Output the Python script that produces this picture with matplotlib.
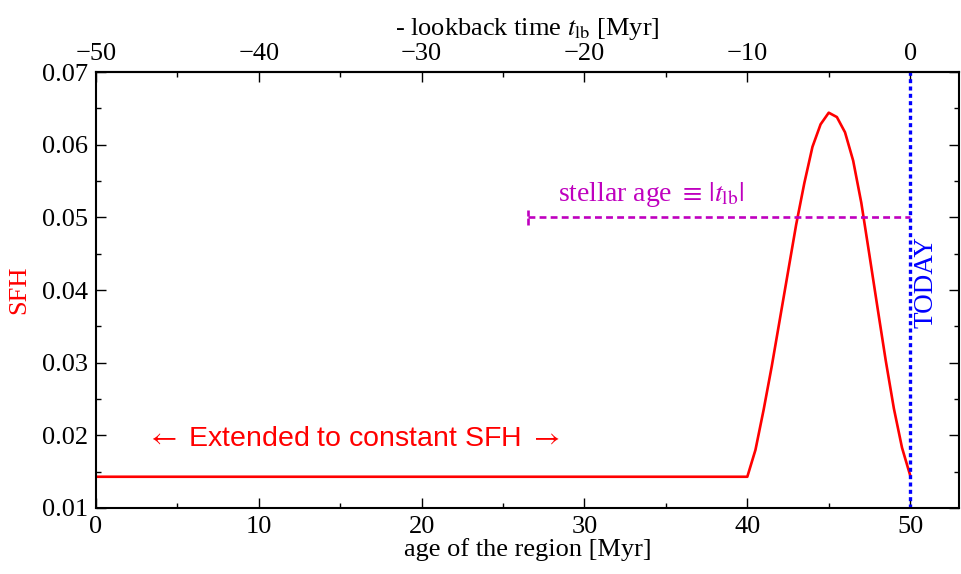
import matplotlib
matplotlib.use("Agg")
import matplotlib.pyplot as plt
from matplotlib.ticker import MultipleLocator, FormatStrFormatter, FixedLocator

# star formation history of the region
age_flat = [0.0, 40.0]
sfh_flat = [0.0143, 0.0143]
age_burst = [40.0, 40.5, 41.0, 41.5, 42.0, 42.5, 43.0, 43.5, 44.0, 44.5, 45.0,
             45.5, 46.0, 46.5, 47.0, 47.5, 48.0, 48.5, 49.0, 49.5, 50.0]
sfh_burst = [0.0143, 0.0180, 0.0235, 0.0295, 0.0360, 0.0425, 0.0490, 0.0547,
             0.0597, 0.0628, 0.0644, 0.0638, 0.0617, 0.0578, 0.0520, 0.0448,
             0.0375, 0.0303, 0.0237, 0.0183, 0.0145]

age_today = 50.0          # age of the region now
stellar_age_start = 26.5  # left end of the stellar-age marker
stellar_age_level = 0.05
cap_half = 0.001

top_major = [-50, -40, -30, -20, -10, 0]
top_minor = [-45, -35, -25, -15, -5]

plt.rcParams['font.family'] = 'serif'
plt.rcParams['font.serif'] = ['Liberation Serif', 'DejaVu Serif']
plt.rcParams['mathtext.fontset'] = 'stix'
plt.rcParams['font.size'] = 19

fig = plt.figure(figsize=(9.61, 5.74), dpi=100)
ax = fig.add_axes([96/961, 66/574, 863/961, 436/574])

# SFH curve
ax.plot(age_flat + age_burst[1:], sfh_flat + sfh_burst[1:], color='red', lw=1.9)

# today
ax.axvline(age_today, color='blue', ls=(0, (1.2, 1.0)), lw=2.4)
ax.text(age_today + 1.0, 0.0411, 'TODAY', color='blue', rotation=90,
        ha='center', va='center', fontsize=19.5)

# stellar age marker
ax.plot([stellar_age_start, age_today], [stellar_age_level, stellar_age_level],
        color='m', ls=(0, (2.6, 1.6)), lw=1.9)
ax.plot([stellar_age_start, stellar_age_start],
        [stellar_age_level - cap_half, stellar_age_level + cap_half],
        color='m', ls=(0, (2.6, 0.8)), lw=1.9)
ax.text(34.1, 0.0531, r'stellar age $\equiv\,|t_{\rm lb}|$', color='m',
        ha='center', va='center', fontsize=20)

ax.text(15.8, 0.0195, r'$\leftarrow$ Extended to constant SFH $\rightarrow$',
        color='red', ha='center', va='center', fontsize=20.5,
        family='Liberation Sans')

ax.set_xlim(0, 53)
ax.set_ylim(0.01, 0.07)
ax.xaxis.set_major_locator(MultipleLocator(10))
ax.xaxis.set_minor_locator(MultipleLocator(5))
ax.yaxis.set_major_locator(MultipleLocator(0.01))
ax.yaxis.set_minor_locator(MultipleLocator(0.005))
ax.yaxis.set_major_formatter(FormatStrFormatter('%.2f'))
ax.tick_params(which='both', direction='in', top=False, right=True,
               width=1.0, pad=6)
ax.tick_params(which='major', length=7)
ax.tick_params(which='minor', length=3.5)
for sp in ax.spines.values():
    sp.set_linewidth(1.5)

ax.set_xlabel('age of the region [Myr]', labelpad=0)
ax.set_ylabel('SFH', color='red', labelpad=8)

# top axis: minus lookback time
top = ax.secondary_xaxis('top', functions=(lambda a: a - age_today,
                                           lambda t: t + age_today))
top.xaxis.set_major_locator(FixedLocator(top_major))
top.xaxis.set_minor_locator(FixedLocator(top_minor))
top.tick_params(which='both', direction='in', width=1.0, pad=5)
top.tick_params(which='major', length=7)
top.tick_params(which='minor', length=3.5)
top.spines['top'].set_linewidth(1.5)
top.set_xlabel(r'- lookback time $t_{\rm lb}$ [Myr]', labelpad=6)

fig.savefig('out.png', dpi=100)
